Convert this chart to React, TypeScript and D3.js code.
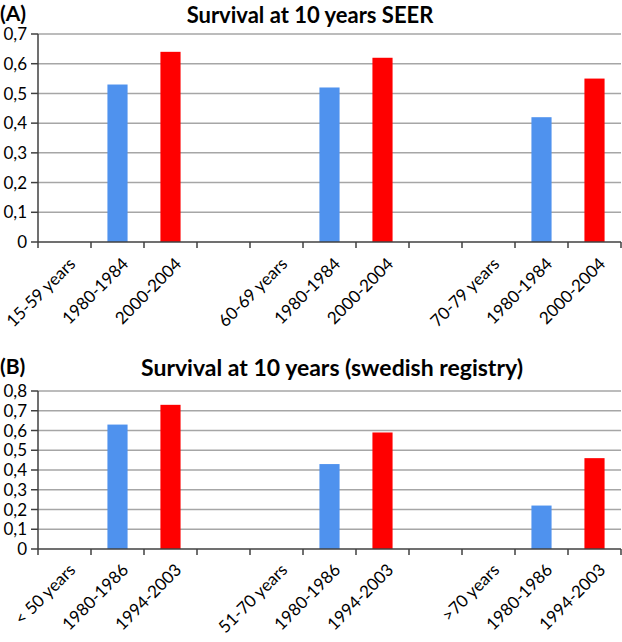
import React from "react";
import * as d3 from "d3";

const categoriesA = ["15-59 years", "1980-1984", "2000-2004", "", "60-69 years", "1980-1984", "2000-2004", "", "70-79 years", "1980-1984", "2000-2004"];
const blueA = [0.53, 0.52, 0.42];
const redA = [0.64, 0.62, 0.55];
const ticksA = [0, 0.1, 0.2, 0.3, 0.4, 0.5, 0.6, 0.7];

const categoriesB = ["< 50 years", "1980-1986", "1994-2003", "", "51-70 years", "1980-1986", "1994-2003", "", ">70 years", "1980-1986", "1994-2003"];
const blueB = [0.63, 0.43, 0.22];
const redB = [0.73, 0.59, 0.46];
const ticksB = [0, 0.1, 0.2, 0.3, 0.4, 0.5, 0.6, 0.7, 0.8];

const FONT = "Lato, 'Open Sans', sans-serif";
const BLUE = "#4f92ee";
const RED = "#ff0000";

type PanelProps = {
  letter: string;
  title: string;
  titleX: number;
  titleY: number;
  titleSize: number;
  cats: string[];
  blue: number[];
  red: number[];
  ticks: number[];
  top: number;
  bottom: number;
  labelDx: number;
  labelDy: number;
};

function Panel({ letter, title, titleX, titleY, titleSize, cats, blue, red, ticks, top, bottom, labelDx, labelDy }: PanelProps) {
  const left = 38;
  const right = 621;
  const x = d3.scaleBand<number>().domain(d3.range(cats.length)).range([left, right]).padding(0);
  const maxV = ticks[ticks.length - 1];
  const y = d3.scaleLinear().domain([0, maxV]).range([bottom, top]);
  const bw = x.bandwidth() * 0.38;
  const bars: { i: number; v: number; c: string }[] = [];
  for (let g = 0; g < blue.length; g++) {
    bars.push({ i: g * 4 + 1, v: blue[g], c: BLUE });
    bars.push({ i: g * 4 + 2, v: red[g], c: RED });
  }
  const fmt = (v: number) => d3.format(".1f")(v).replace(".", ",");
  return (
    <g>
      <text x={0} y={titleY - 2} fontFamily={FONT} fontWeight="bold" fontSize={21} fill="#000">{letter}</text>
      <text x={titleX} y={titleY} fontFamily={FONT} fontWeight="bold" fontSize={titleSize} textAnchor="middle" fill="#000">{title}</text>
      {ticks.map((t) => (
        <g key={t}>
          {t > 0 && <line x1={left} x2={right} y1={y(t)} y2={y(t)} stroke="#a6a6a6" strokeWidth={1.5} />}
          <line x1={left - 7} x2={left} y1={y(t)} y2={y(t)} stroke="#404040" strokeWidth={1.5} />
          <text x={27} y={y(t)} dy="0.36em" textAnchor="end" fontFamily={FONT} fontSize={17} fill="#000">
            {t === 0 ? "0" : fmt(t)}
          </text>
        </g>
      ))}
      {bars.map((b) => (
        <rect key={b.i} x={(x(b.i) as number) + (x.bandwidth() - bw) / 2} width={bw} y={y(b.v)} height={y(0) - y(b.v)} fill={b.c} />
      ))}
      <line x1={left} x2={left} y1={top} y2={bottom} stroke="#404040" strokeWidth={1.5} />
      <line x1={left} x2={right} y1={bottom} y2={bottom} stroke="#404040" strokeWidth={1.5} />
      {d3.range(cats.length + 1).map((i) => {
        const xx = i < cats.length ? (x(i) as number) : right;
        return <line key={i} x1={xx} x2={xx} y1={bottom} y2={bottom + 6} stroke="#404040" strokeWidth={1.5} />;
      })}
      {cats.map((c, i) => (
        <text
          key={i}
          transform={`translate(${(x(i) as number) + x.bandwidth() / 2 + labelDx},${bottom + labelDy}) rotate(-45)`}
          textAnchor="end"
          fontFamily={FONT}
          fontSize={17}
          fill="#000"
        >
          {c}
        </text>
      ))}
    </g>
  );
}

export default function App() {
  return (
    <svg width={622} height={642} style={{ position: "absolute", left: 0, top: 0, background: "#fff" }}>
      <rect width={622} height={642} fill="#fff" />
      <Panel letter="(A)" title="Survival at 10 years SEER" titleX={310} titleY={23} titleSize={22} cats={categoriesA} blue={blueA} red={redA} ticks={ticksA} top={34} bottom={242} labelDx={12} labelDy={23} />
      <Panel letter="(B)" title="Survival at 10 years (swedish registry)" titleX={332} titleY={376} titleSize={23} cats={categoriesB} blue={blueB} red={redB} ticks={ticksB} top={391} bottom={549} labelDx={12} labelDy={22} />
    </svg>
  );
}
